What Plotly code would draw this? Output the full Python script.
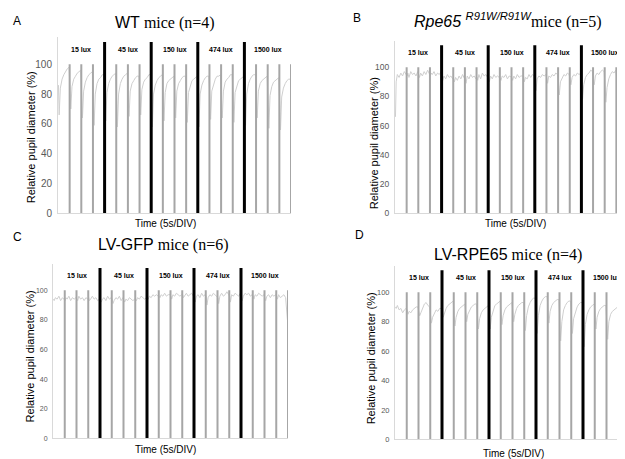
import plotly.graph_objects as go

W, H = 625, 459

# ---------------- data ----------------
lux_labels = ["15 lux", "45 lux", "150 lux", "474 lux", "1500 lux"]
lux_centers = [2, 6, 10, 14, 18]
stim_gray = [1, 2, 3, 5, 6, 7, 9, 10, 11, 13, 14, 15, 17, 18, 19, 20]
stim_black = [4, 8, 12, 16]
sample_offsets = [0.04, 0.1, 0.2, 0.35, 0.5, 0.65, 0.8, 0.95]
yticks = [0, 20, 40, 60, 80, 100]

wt_units = [
    [86, 66, 84, 90, 93, 95, 97, 98],
    [82, 70, 85, 90, 92, 94, 95, 96],
    [78, 64, 82, 88, 91, 93, 94, 95],
    [75, 59, 80, 87, 90, 91, 93, 93],
    [76, 62, 81, 87, 90, 92, 93, 94],
    [74, 58, 80, 87, 90, 92, 93, 94],
    [78, 65, 82, 87, 89, 91, 92, 92],
    [79, 66, 83, 88, 90, 91, 93, 93],
    [74, 58, 80, 86, 89, 91, 92, 93],
    [76, 62, 81, 87, 89, 90, 91, 92],
    [78, 64, 82, 87, 89, 91, 92, 92],
    [76, 61, 81, 86, 89, 90, 91, 92],
    [74, 58, 80, 86, 89, 91, 92, 92],
    [77, 63, 82, 87, 90, 92, 92, 93],
    [78, 64, 82, 88, 90, 91, 93, 93],
    [76, 61, 81, 86, 89, 90, 91, 92],
    [75, 59, 80, 87, 90, 92, 93, 93],
    [78, 64, 82, 87, 89, 90, 91, 92],
    [73, 57, 79, 85, 88, 89, 90, 91],
    [72, 56, 78, 84, 87, 89, 90, 90],
]

rpe_units = [
    [66, 90, 95, 93, 96, 94, 97, 95],
    [94, 96, 93, 97, 95, 96, 94, 97],
    [95, 93, 96, 94, 97, 95, 98, 96],
    [94, 96, 95, 97, 94, 96, 95, 97],
    [93, 91, 94, 92, 95, 93, 94, 92],
    [92, 90, 93, 91, 94, 92, 95, 93],
    [91, 89, 94, 92, 95, 93, 94, 92],
    [93, 91, 95, 92, 96, 94, 95, 93],
    [93, 90, 94, 92, 95, 93, 94, 93],
    [92, 91, 94, 93, 95, 92, 94, 93],
    [93, 91, 94, 92, 95, 93, 94, 94],
    [94, 90, 93, 92, 95, 93, 95, 94],
    [88, 84, 92, 94, 93, 95, 94, 95],
    [92, 89, 94, 93, 95, 94, 96, 95],
    [88, 81, 90, 93, 95, 94, 96, 95],
    [92, 88, 93, 95, 94, 96, 95, 96],
    [85, 78, 88, 93, 95, 96, 98, 97],
    [92, 88, 94, 96, 95, 97, 98, 97],
    [85, 76, 86, 92, 95, 97, 96, 98],
    [92, 89, 94, 96, 98, 97, 99, 98],
]

gfp_units = [
    [94, 93, 95, 94, 96, 93, 95, 94],
    [93, 95, 94, 96, 93, 95, 94, 95],
    [94, 93, 96, 94, 95, 93, 95, 94],
    [95, 93, 94, 96, 94, 95, 93, 94],
    [93, 92, 94, 95, 93, 96, 94, 95],
    [94, 91, 93, 95, 94, 96, 93, 95],
    [93, 92, 94, 93, 95, 94, 93, 94],
    [94, 93, 95, 94, 96, 95, 94, 95],
    [95, 94, 96, 95, 97, 96, 97, 96],
    [96, 95, 97, 96, 98, 96, 97, 97],
    [96, 94, 97, 96, 98, 97, 96, 97],
    [97, 95, 96, 98, 96, 97, 98, 96],
    [95, 92, 96, 97, 95, 98, 96, 97],
    [96, 90, 95, 97, 96, 98, 97, 96],
    [95, 91, 96, 98, 96, 97, 99, 97],
    [96, 92, 97, 96, 98, 97, 96, 98],
    [95, 93, 96, 98, 97, 98, 96, 97],
    [96, 94, 97, 96, 98, 97, 96, 97],
    [95, 93, 96, 97, 95, 97, 96, 97],
    [96, 94, 97, 95, 96, 97, 95, 80],
]

lvrpe_units = [
    [90, 89, 91, 88, 89, 86, 88, 89],
    [88, 85, 87, 86, 88, 89, 90, 90],
    [87, 84, 86, 89, 92, 93, 91, 90],
    [85, 79, 83, 86, 88, 87, 89, 89],
    [87, 83, 86, 89, 91, 92, 93, 94],
    [84, 77, 83, 87, 89, 90, 91, 92],
    [85, 80, 85, 88, 90, 91, 92, 92],
    [83, 75, 82, 86, 88, 89, 90, 91],
    [84, 75, 83, 88, 91, 92, 93, 94],
    [85, 78, 84, 88, 90, 91, 92, 93],
    [86, 80, 85, 89, 91, 92, 93, 93],
    [84, 74, 84, 90, 93, 95, 96, 96],
    [83, 72, 84, 91, 94, 96, 97, 97],
    [86, 79, 87, 91, 93, 94, 95, 95],
    [80, 67, 80, 88, 91, 93, 94, 94],
    [82, 72, 82, 87, 90, 92, 93, 93],
    [77, 63, 78, 85, 88, 90, 91, 92],
    [83, 75, 83, 87, 89, 90, 91, 91],
    [79, 68, 80, 85, 87, 88, 89, 90],
    [81, 71, 81, 86, 89, 91, 92, 93],
]

# ---------------- layout geometry (pixels) ----------------
SANS = "Liberation Sans"
SERIF = "Liberation Serif"

def sans(txt):
    return '<span style="font-family:Liberation Sans">' + txt + '</span>'

def serif(txt):
    return '<span style="font-family:Liberation Serif">' + txt + '</span>'

panels = [
    dict(units=wt_units, x0=50, x1=283, y0=208, y100=57, tick=10,
         title=sans("WT") + serif(" mice (n=4)"), tpos=(157, 15),
         letter="A", lpos=(3, 13), xt=(157, 218), yt=(23, 131)),
    dict(units=rpe_units, x0=387, x1=620, y0=208, y100=60, tick=8.5,
         title="<i>" + sans("Rpe65 ") + "</i><sup><i>" + sans("R91W/R91W") + "</i></sup>" + serif("mice (n=5)"),
         tpos=(500, 13),
         letter="B", lpos=(343, 10), xt=(507, 218), yt=(366, 137)),
    dict(units=gfp_units, x0=45, x1=280, y0=436, y100=286, tick=7,
         title=sans("LV-GFP") + serif(" mice (n=6)"), tpos=(155, 240),
         letter="C", lpos=(3, 232), xt=(157, 447), yt=(22, 353)),
    dict(units=lvrpe_units, x0=387, x1=622, y0=437, y100=288, tick=7.5,
         title=sans("LV-RPE65") + serif(" mice (n=4)"), tpos=(500, 250),
         letter="D", lpos=(345, 230), xt=(505, 451), yt=(363, 355)),
]

YMAX = 118

fig = go.Figure()
annotations = []

for i, p in enumerate(panels, start=1):
    xa = "x" if i == 1 else f"x{i}"
    ya = "y" if i == 1 else f"y{i}"
    top_px = p["y0"] - (YMAX / 100.0) * (p["y0"] - p["y100"])
    fig.update_layout(**{
        ("xaxis" if i == 1 else f"xaxis{i}"): dict(
            domain=[p["x0"] / W, p["x1"] / W], range=[0, 20], anchor=ya,
            showgrid=False, zeroline=False, showticklabels=False, ticks="",
            showline=True, linecolor="#d9d9d9", linewidth=1, fixedrange=True),
        ("yaxis" if i == 1 else f"yaxis{i}"): dict(
            domain=[1 - p["y0"] / H, 1 - top_px / H], range=[0, YMAX], anchor=xa,
            showgrid=False, zeroline=False, tickvals=yticks, ticks="",
            showline=True, linecolor="#d9d9d9", linewidth=1,
            tickfont=dict(family=SANS, size=p["tick"], color="#595959"),
            ticklabelstandoff=3, fixedrange=True),
    })

    # pupil trace
    tx, ty = [], []
    for u, vals in enumerate(p["units"]):
        for off, v in zip(sample_offsets, vals):
            tx.append(u + off)
            ty.append(v)
    fig.add_trace(go.Scatter(x=tx, y=ty, mode="lines", xaxis=xa, yaxis=ya,
                             line=dict(color="#cfcfcf", width=1), hoverinfo="skip",
                             showlegend=False))

    # stimulus markers
    gx, gy = [], []
    for s in stim_gray:
        gx += [s, s, None]
        gy += [0, 100, None]
    fig.add_trace(go.Scatter(x=gx, y=gy, mode="lines", xaxis=xa, yaxis=ya,
                             line=dict(color="#a6a6a6", width=2), hoverinfo="skip",
                             showlegend=False, cliponaxis=False))
    bx, by = [], []
    for s in stim_black:
        bx += [s, s, None]
        by += [0, 115, None]
    fig.add_trace(go.Scatter(x=bx, y=by, mode="lines", xaxis=xa, yaxis=ya,
                             line=dict(color="#000000", width=3), hoverinfo="skip",
                             showlegend=False, cliponaxis=False))

    for lab, c in zip(lux_labels, lux_centers):
        annotations.append(dict(x=c, y=110, xref=xa, yref=ya, text="<b>" + lab + "</b>",
                                showarrow=False, font=dict(family=SANS, size=7, color="#000000")))

    annotations.append(dict(x=p["tpos"][0] / W, y=1 - p["tpos"][1] / H, xref="paper", yref="paper",
                            text=p["title"], showarrow=False, xanchor="center", yanchor="middle",
                            font=dict(family=SERIF, size=16, color="#000000")))
    annotations.append(dict(x=p["lpos"][0] / W, y=1 - p["lpos"][1] / H, xref="paper", yref="paper",
                            text=p["letter"], showarrow=False, xanchor="left", yanchor="middle",
                            font=dict(family=SANS, size=12, color="#000000")))
    annotations.append(dict(x=p["xt"][0] / W, y=1 - p["xt"][1] / H, xref="paper", yref="paper",
                            text="Time (5s/DIV)", showarrow=False, xanchor="center", yanchor="middle",
                            font=dict(family=SANS, size=10, color="#000000")))
    annotations.append(dict(x=p["yt"][0] / W, y=1 - p["yt"][1] / H, xref="paper", yref="paper",
                            text="Relative pupil diameter (%)", showarrow=False, textangle=-90,
                            xanchor="center", yanchor="middle",
                            font=dict(family=SANS, size=11, color="#000000")))

fig.update_layout(width=W, height=H, autosize=False,
                  margin=dict(l=0, r=0, t=0, b=0),
                  paper_bgcolor="white", plot_bgcolor="white",
                  annotations=annotations, showlegend=False)

fig.write_html("out.html")
